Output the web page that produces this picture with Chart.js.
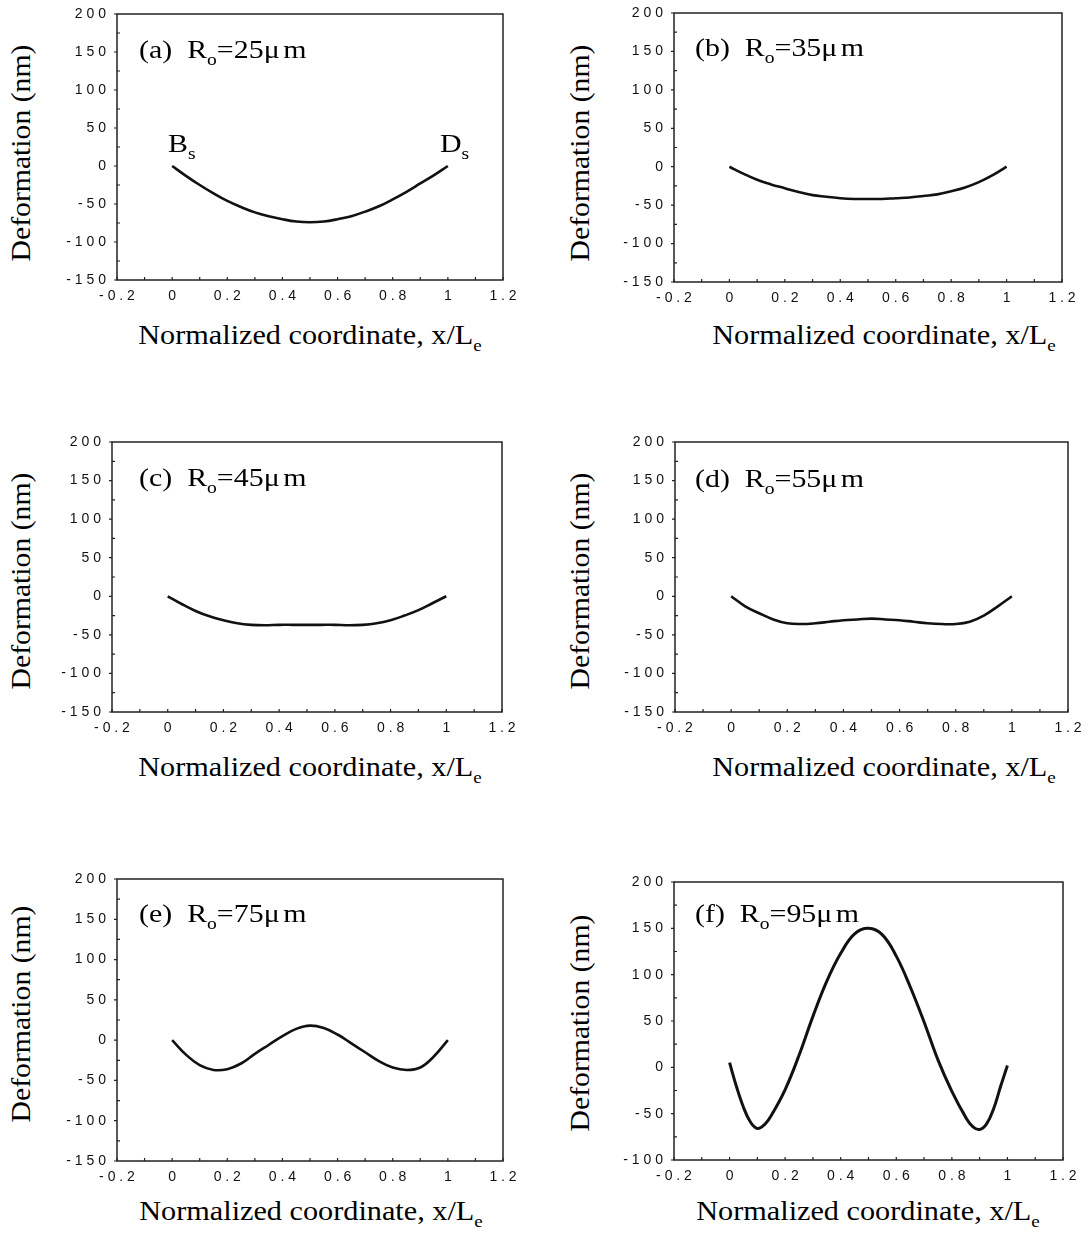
<!DOCTYPE html>
<html>
<head>
<meta charset="utf-8">
<script src="https://cdn.jsdelivr.net/npm/chart.js@4/dist/chart.umd.min.js"></script>
<style>
  html, body { margin: 0; padding: 0; background: #fff; }
  #page { position: relative; width: 1088px; height: 1234px; overflow: hidden; }
  canvas { position: absolute; }
  .serif { position: absolute; font-family: 'Liberation Serif', 'Times New Roman', serif; font-size: 26px; line-height: 26px; color: #000; white-space: nowrap; }
  .lab { transform: scaleX(1.15); transform-origin: 0 0; }
  .ytitle { font-size: 27px; transform: translate(-50%, -50%) rotate(-90deg) scaleX(1.1); }
  .xtitle { font-size: 27px; transform: translate(-50%, -50%) scaleX(1.12); }
  .sub { font-size: 17px; position: relative; top: 7px; }
  .mu { margin-right: 3px; }
</style>
</head>
<body>
<div id="page"></div>
<script>
(function(){
    'use strict';

    // x positions (normalized coordinate x/Le)
    var xSteps = [0, 0.05, 0.1, 0.15, 0.2, 0.25, 0.3, 0.35, 0.4, 0.45, 0.5,
                  0.55, 0.6, 0.65, 0.7, 0.75, 0.8, 0.85, 0.9, 0.95, 1];
    var xStepsF = [0, 0.025, 0.05, 0.075, 0.1, 0.125, 0.15, 0.2, 0.25, 0.3, 0.35, 0.4, 0.45, 0.5,
                   0.55, 0.6, 0.65, 0.7, 0.75, 0.8, 0.85, 0.875, 0.9, 0.925, 0.95, 0.975, 1];

    // deformation (nm)
    var defA = [0, -13, -25, -36, -46, -54, -61, -66, -70, -73, -74, -73, -70, -66, -60, -53, -44, -34, -23, -12, 0];
    var defB = [0, -9, -17, -23, -28, -33, -37, -39, -41, -42, -42, -42, -41, -40, -38, -36, -32, -27, -20, -11, 0];
    var defC = [0, -10, -19, -26, -31, -35, -37, -37.5, -37, -37, -37, -37, -37, -37.5, -37, -35, -31, -25, -18, -9, 0];
    var defD = [0, -13, -22, -30, -35, -36, -35, -33, -31, -30, -29, -30, -31, -33, -35, -36, -36, -33, -25, -13, 0];
    var defE = [0, -18, -31, -37, -36, -29, -17, -6, 5, 14, 18, 15, 7, -4, -15, -26, -34, -37, -34, -20, 0];
    var defF = [5, -21, -43, -59, -66, -62, -52, -24, 13, 55, 93, 123, 144, 150,
                143, 120, 87, 49, 8, -26, -54, -64, -67, -61, -45, -21, 2];

    var panelLetters = ['a', 'b', 'c', 'd', 'e', 'f'];
    var radiiUm = [25, 35, 45, 55, 75, 95];
    var yMins = [-150, -150, -150, -150, -150, -100];

    var xTitle = 'Normalized coordinate, x/L';
    var yTitle = 'Deformation (nm)';

    // plot boxes in page pixels: left, top, right, bottom
    var boxes = [
        [117, 14, 503, 280], [674, 13, 1062, 282],
        [112, 442, 502, 712], [675, 442, 1068, 712],
        [117, 879, 503, 1161], [674, 882, 1063, 1160]
    ];

    var page = document.getElementById('page');
    var tickFont = { family: "'Liberation Sans', Arial, sans-serif", size: 14 };

    var frame = {
        id: 'frame',
        afterDraw: function(chart){
            var ctx = chart.ctx, a = chart.chartArea;
            var xs = chart.scales.x, ys = chart.scales.y;
            var v, p;
            ctx.save();
            ctx.strokeStyle = '#222';
            ctx.lineWidth = 1.5;
            ctx.strokeRect(a.left, a.top, a.right - a.left, a.bottom - a.top);
            ctx.lineWidth = 1.2;
            ctx.beginPath();
            for (v = -2; v <= 12; v++) {
                p = xs.getPixelForValue(v / 10);
                ctx.moveTo(p, a.bottom);
                ctx.lineTo(p, a.bottom - 3);
            }
            for (v = ys.min; v <= ys.max; v += 25) {
                p = ys.getPixelForValue(v);
                if (v % 50 === 0) {
                    ctx.moveTo(a.left - 3, p);
                    ctx.lineTo(a.left, p);
                } else {
                    ctx.moveTo(a.left, p);
                    ctx.lineTo(a.left + 3, p);
                }
            }
            ctx.stroke();
            ctx.restore();
        }
    };

    function addText(cls, html, left, top){
        var d = document.createElement('div');
        d.className = 'serif ' + cls;
        d.innerHTML = html;
        d.style.left = left + 'px';
        d.style.top = top + 'px';
        page.appendChild(d);
        return d;
    }

    function makePanel(i, xv, yv){
        var b = boxes[i];
        var w = b[2] - b[0], h = b[3] - b[1];
        var cv = document.createElement('canvas');
        cv.width = w + 80;
        cv.height = h + 42;
        cv.style.left = (b[0] - 60) + 'px';
        cv.style.top = (b[1] - 12) + 'px';
        page.appendChild(cv);

        var pts = xv.map(function(x, k){ return {x: x, y: yv[k]}; });

        new Chart(cv.getContext('2d'), {
            type: 'line',
            data: {
                datasets: [{
                    data: pts,
                    borderColor: '#111',
                    borderWidth: i === 5 ? 3 : 2.6,
                    pointRadius: 0,
                    tension: 0.4,
                    fill: false
                }]
            },
            options: {
                responsive: false,
                animation: false,
                devicePixelRatio: 1,
                layout: { padding: { top: 12, right: 20, left: 0, bottom: 0 } },
                plugins: { legend: { display: false }, tooltip: { enabled: false } },
                scales: {
                    x: {
                        type: 'linear',
                        min: -0.2, max: 1.2,
                        grid: { display: false },
                        border: { display: false },
                        afterFit: function(s){ s.height = 30; },
                        ticks: {
                            stepSize: 0.2,
                            autoSkip: false,
                            maxRotation: 0,
                            padding: 0,
                            color: '#111',
                            font: tickFont,
                            callback: function(v){
                                return String(Math.round(v * 10) / 10).split('').join(' ');
                            }
                        }
                    },
                    y: {
                        min: yMins[i], max: 200,
                        grid: { display: false },
                        border: { display: false },
                        afterFit: function(s){ s.width = 60; },
                        ticks: {
                            stepSize: 50,
                            padding: 3,
                            color: '#111',
                            font: tickFont,
                            callback: function(v){
                                return String(v).split('').join(' ');
                            }
                        }
                    }
                }
            },
            plugins: [frame]
        });

        // panel label
        var labLeft = i % 2 === 0 ? 139 : 695;
        var labTops = [37, 35, 465, 466, 901, 901];
        addText('lab', '(' + panelLetters[i] + ')&nbsp; R<span class="sub">o</span>=' + radiiUm[i] +
            '<span class="mu">\u03bc</span>m', labLeft, labTops[i]);
    }

    var sets = [defA, defB, defC, defD, defE, defF];
    for (var i = 0; i < 6; i++) {
        makePanel(i, i === 5 ? xStepsF : xSteps, sets[i]);
    }

    // axis titles
    var yTitlePos = [[21, 153], [580, 153], [21, 581], [580, 581], [21, 1014], [580, 1023]];
    var xTitlePos = [[310, 337], [884, 337], [310, 769], [884, 769], [311, 1213], [868, 1213]];
    for (var k = 0; k < 6; k++) {
        addText('ytitle', yTitle, yTitlePos[k][0], yTitlePos[k][1]);
        addText('xtitle', xTitle + '<span class="sub">e</span>', xTitlePos[k][0], xTitlePos[k][1]);
    }

    // end point markers in panel (a)
    addText('lab', 'B<span class="sub">s</span>', 168, 131);
    addText('lab', 'D<span class="sub">s</span>', 440, 131);
}());
</script>
</body>
</html>
